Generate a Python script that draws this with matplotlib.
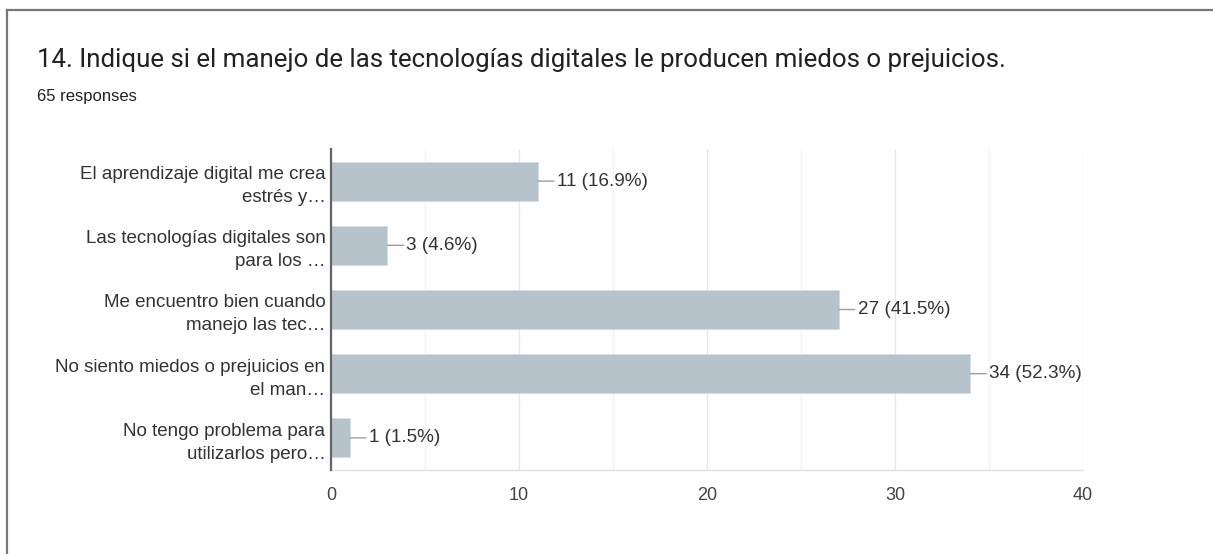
import matplotlib
matplotlib.use("Agg")
import matplotlib.pyplot as plt
from matplotlib.lines import Line2D

categories = [
    "El aprendizaje digital me crea\nestrés y…",
    "Las tecnologías digitales son\npara los …",
    "Me encuentro bien cuando\nmanejo las tec…",
    "No siento miedos o prejuicios en\nel man…",
    "No tengo problema para\nutilizarlos pero…",
]
counts = [11, 3, 27, 34, 1]
percents = [16.9, 4.6, 41.5, 52.3, 1.5]
xticks = [0, 10, 20, 30, 40]
minor_xticks = [5, 15, 25, 35]
title = "14. Indique si el manejo de las tecnologías digitales le producen miedos o prejuicios."
subtitle = "65 responses"

W, H = 1213, 554
fig = plt.figure(figsize=(W / 100, H / 100), dpi=100)
fig.patch.set_facecolor("white")

# frame lines (top and left)
fig.add_artist(Line2D([6.5 / W, 1.0], [1 - 9.5 / H, 1 - 9.5 / H], color="#777777", lw=1.6,
                      transform=fig.transFigure))
fig.add_artist(Line2D([6.5 / W, 6.5 / W], [0, 1 - 9.5 / H], color="#777777", lw=1.6,
                      transform=fig.transFigure))

fig.text(37 / W, 1 - 67 / H, title, fontsize=18.6, family=["Roboto", "DejaVu Sans"],
         color="#202124", ha="left", va="baseline")
fig.text(37 / W, 1 - 101 / H, subtitle, fontsize=12, family=["Liberation Sans", "DejaVu Sans"],
         color="#202124", ha="left", va="baseline")

left, right = 331 / W, 1083 / W
top, bottom = 149 / H, 470 / H
ax = fig.add_axes([left, 1 - bottom, right - left, bottom - top])

y = list(range(len(categories)))
ax.barh(y, counts, height=0.61, color="#b7c3cb", edgecolor="#d6dde2", linewidth=0.6, zorder=3)
ax.set_ylim(len(categories) - 0.5, -0.5)
ax.set_xlim(0, 40)

ax.set_xticks(xticks)
ax.set_xticks(minor_xticks, minor=True)
ax.grid(axis="x", which="major", color="#e6e6e6", lw=1, zorder=0)
ax.grid(axis="x", which="minor", color="#f2f2f2", lw=1, zorder=0)
ax.tick_params(axis="x", which="both", length=0, pad=12, labelsize=13, labelcolor="#444444")
for lab in ax.get_xticklabels():
    lab.set_family(["Liberation Sans", "DejaVu Sans"])

ax.set_yticks(y)
ax.set_yticklabels(categories, fontsize=13.5, color="#333333",
                   family=["Liberation Sans", "DejaVu Sans"], linespacing=1.45)
ax.tick_params(axis="y", length=0, pad=4)

for s in ["top", "right"]:
    ax.spines[s].set_visible(False)
ax.spines["left"].set_color("#666666")
ax.spines["left"].set_linewidth(1.6)
ax.spines["left"].set_zorder(5)
ax.spines["bottom"].set_color("#e0e0e0")
ax.spines["bottom"].set_linewidth(1)

for yi, c, p in zip(y, counts, percents):
    ax.annotate(f"{c} ({p}%)", xy=(c, yi), xytext=(19, 0), textcoords="offset pixels",
                ha="left", va="center", fontsize=13.6, color="#333333",
                family=["Liberation Sans", "DejaVu Sans"],
                arrowprops=dict(arrowstyle="-", color="#9e9e9e", lw=1, shrinkA=0, shrinkB=0,
                                relpos=(0, 0.5)), zorder=4)

fig.savefig("out.png", dpi=100, facecolor="white")
